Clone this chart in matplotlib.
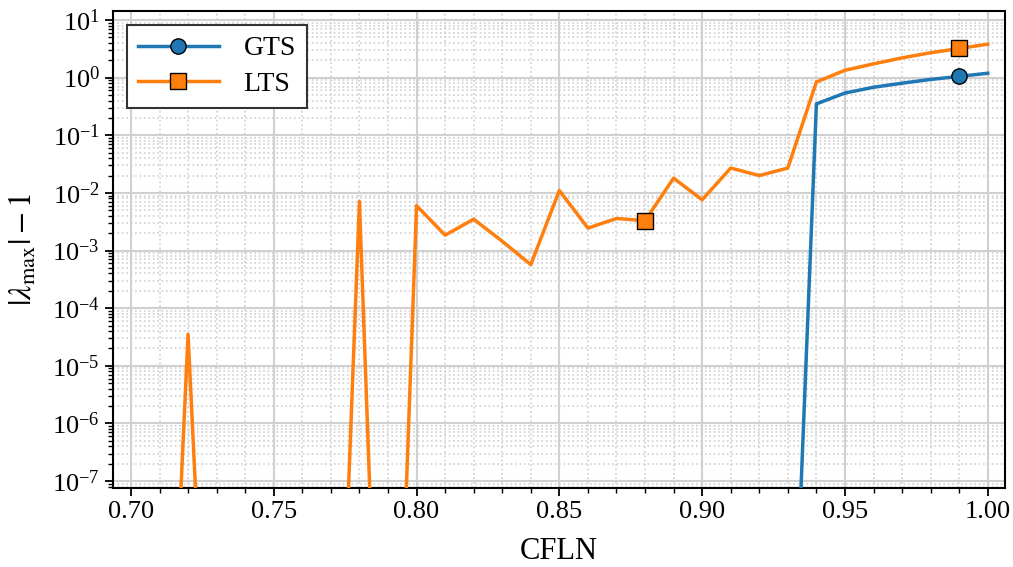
import matplotlib
matplotlib.use('Agg')
import matplotlib.pyplot as plt
import numpy as np
from matplotlib.ticker import (LogLocator, FixedLocator, MultipleLocator,
                               NullFormatter, FormatStrFormatter)

plt.rcParams['font.family'] = 'serif'
plt.rcParams['font.serif'] = ['Liberation Serif', 'DejaVu Serif']
plt.rcParams['mathtext.fontset'] = 'stix'

# CFL numbers
cfl = [0.70, 0.71, 0.72, 0.73, 0.74, 0.75, 0.76, 0.77, 0.78, 0.79,
       0.80, 0.81, 0.82, 0.83, 0.84, 0.85, 0.86, 0.87, 0.88, 0.89,
       0.90, 0.91, 0.92, 0.93, 0.94, 0.95, 0.96, 0.97, 0.98, 0.99, 1.00]

# |lambda_max| - 1 for global time stepping
gts = [0.0, 0.0, 0.0, 0.0, 0.0, 0.0, 0.0, 0.0, 0.0, 0.0,
       0.0, 0.0, 0.0, 0.0, 0.0, 0.0, 0.0, 0.0, 0.0, 0.0,
       0.0, 0.0, 0.0, 1.5e-13, 0.35, 0.54, 0.68, 0.80, 0.93, 1.05, 1.19]

# |lambda_max| - 1 for local time stepping
lts = [0.0, 6.7e-16, 3.5e-5, 1.8e-15, 0.0, 0.0, 0.0, 6.7e-16, 7.1e-3, 1.1e-16,
       6.0e-3, 1.85e-3, 3.5e-3, 1.45e-3, 5.7e-4, 1.1e-2, 2.45e-3, 3.6e-3, 3.3e-3, 1.8e-2,
       7.6e-3, 2.7e-2, 2.0e-2, 2.7e-2, 0.84, 1.34, 1.73, 2.2, 2.7, 3.2, 3.8]

# decades shown on the y axis
y_decades = [1e-7, 1e-6, 1e-5, 1e-4, 1e-3, 1e-2, 1e-1, 1e0, 1e1]

fig = plt.figure(figsize=(10.13, 5.67), dpi=100)
ax = fig.add_axes([0.1115, 0.1393, 0.8805, 0.8413])

ax.plot(cfl, gts, color='#1f77b4', lw=2.5, marker='o', ms=11, mec='black', mew=1.0,
        markevery=(7, 11), label='GTS', zorder=3)
ax.plot(cfl, lts, color='#ff7f0e', lw=2.5, marker='s', ms=11, mec='black', mew=1.0,
        markevery=(7, 11), label='LTS', zorder=3)

ax.set_yscale('log')
ax.set_xlim(0.6937, 1.006)
ax.set_ylim(7.6e-8, 14.3)

ax.yaxis.set_major_locator(FixedLocator(y_decades))
ax.yaxis.set_minor_locator(LogLocator(base=10, subs=np.arange(2, 10), numticks=12))
ax.yaxis.set_minor_formatter(NullFormatter())
ax.xaxis.set_major_locator(MultipleLocator(0.05))
ax.xaxis.set_minor_locator(MultipleLocator(0.01))
ax.xaxis.set_major_formatter(FormatStrFormatter('%.2f'))

ax.grid(which='major', color='#d0d0d0', lw=1.5, ls='-')
ax.grid(which='minor', color='#d0d0d0', lw=1.2, ls=':')
ax.set_axisbelow(True)

ax.tick_params(which='major', labelsize=19, length=6, width=1.3, direction='out')
ax.tick_params(which='minor', length=3.5, width=1.0)
for s in ax.spines.values():
    s.set_linewidth(1.5)

ax.set_xlabel('CFLN', fontsize=22, labelpad=10)
ax.set_ylabel(r'$|\lambda_{\max}| - 1$', fontsize=23, labelpad=9)

leg = ax.legend(loc='upper left', fontsize=20, fancybox=False, framealpha=1,
                edgecolor='#333333', handlelength=2.9, borderpad=0.4,
                labelspacing=0.35, handletextpad=0.9)
leg.get_frame().set_linewidth(1.5)

fig.savefig('out.png', dpi=100)
